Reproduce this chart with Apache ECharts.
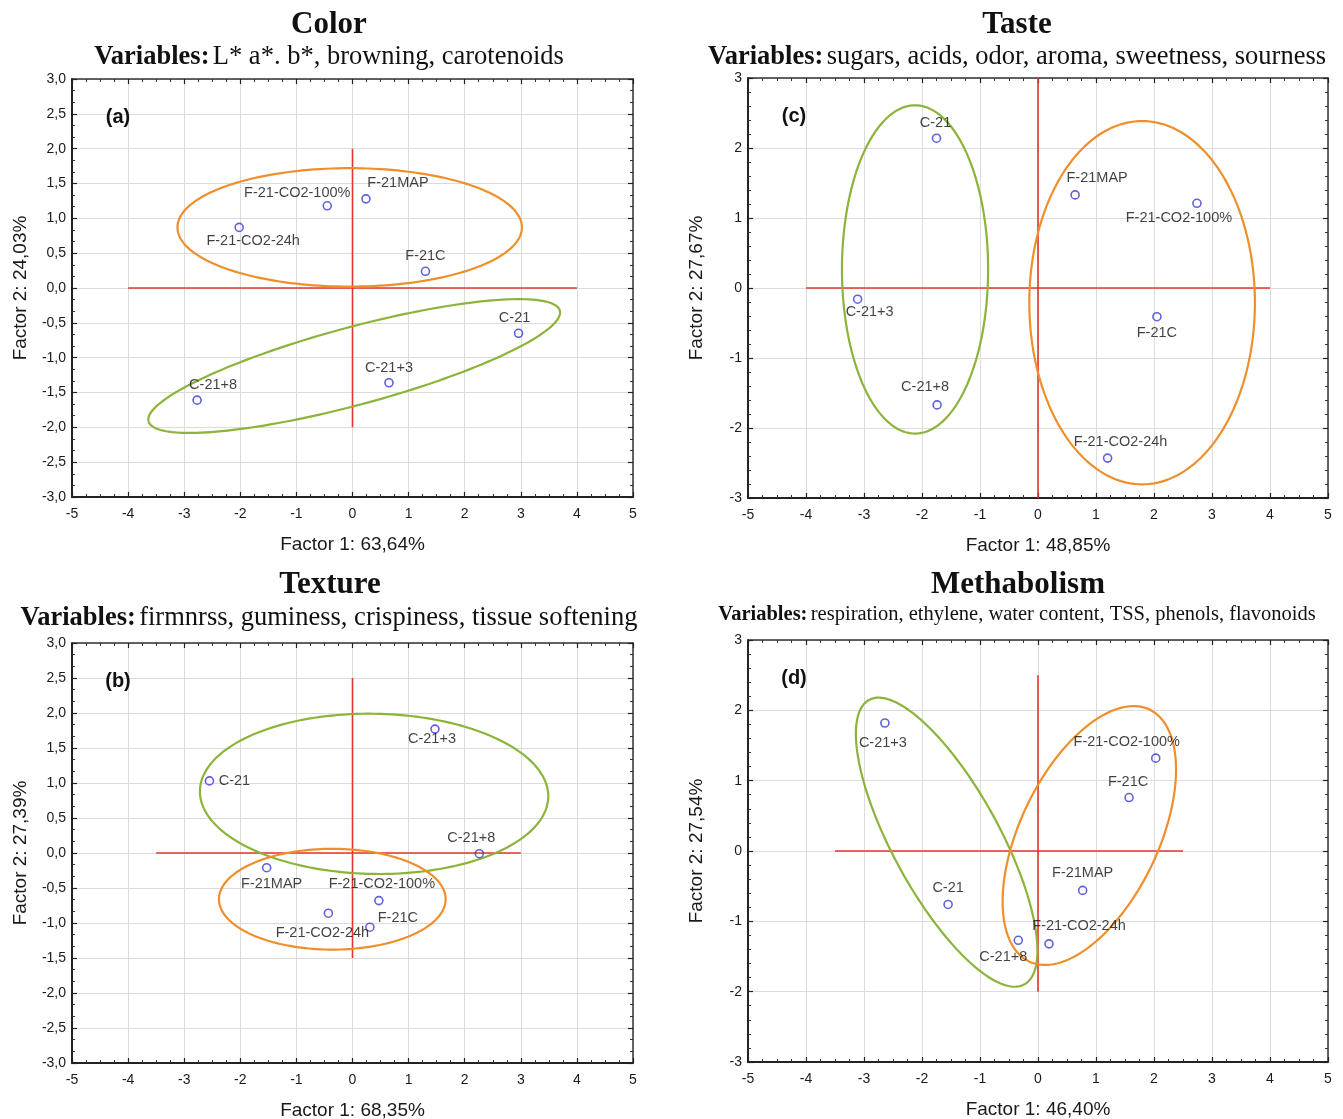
<!DOCTYPE html>
<html><head><meta charset="utf-8">
<script src="https://cdn.jsdelivr.net/npm/echarts@6/dist/echarts.min.js"></script>
<style>html,body{margin:0;padding:0;background:#fff}#c{width:1343px;height:1119px}</style>
</head><body><div id="c"></div>
<script>
// ---------- DATA ----------
const samples = ['C-21', 'C-21+3', 'C-21+8', 'F-21C', 'F-21MAP', 'F-21-CO2-24h', 'F-21-CO2-100%'];

// (a) Color
const colorF1 = [2.96, 0.65, -2.77, 1.30, 0.24, -2.02, -0.45];
const colorF2 = [-0.65, -1.36, -1.61, 0.24, 1.28, 0.87, 1.18];
// (c) Taste
const tasteF1 = [-1.75, -3.11, -1.74, 2.05, 0.64, 1.20, 2.74];
const tasteF2 = [2.14, -0.16, -1.67, -0.41, 1.33, -2.43, 1.21];
// (b) Texture
const textureF1 = [-2.55, 1.47, 2.26, 0.31, -1.53, -0.43, 0.47];
const textureF2 = [1.03, 1.77, -0.01, -1.06, -0.21, -0.86, -0.68];
// (d) Methabolism
const metabF1 = [-1.55, -2.64, -0.34, 1.57, 0.77, 0.19, 2.03];
const metabF2 = [-0.76, 1.82, -1.27, 0.76, -0.56, -1.32, 1.32];

// group ellipses: [centre F1, centre F2, half-width, half-height, correlation]
const colorGreenEllipse = [0.03, -1.12, 3.67, 0.96, 0.80];
const colorOrangeEllipse = [-0.05, 0.87, 3.07, 0.85, 0];
const tasteGreenEllipse = [-2.12, 0.265, 1.26, 2.345, 0];
const tasteOrangeEllipse = [1.795, -0.21, 1.945, 2.595, 0];
const textureGreenEllipse = [0.385, 0.845, 3.105, 1.145, -0.03];
const textureOrangeEllipse = [-0.36, -0.66, 2.02, 0.72, 0];
const metabGreenEllipse = [-1.575, 0.125, 1.565, 2.055, -0.75];
const metabOrangeEllipse = [0.885, 0.22, 1.495, 1.84, 0.51];

// red reference cross: [from, to] along F1 (at F2=0) and along F2 (at F1=0)
const colorCrossF1 = [-4, 4], colorCrossF2 = [-2, 2];
const tasteCrossF1 = [-4, 4], tasteCrossF2 = [-3, 3];
const textureCrossF1 = [-3.5, 3], textureCrossF2 = [-1.5, 2.5];
const metabCrossF1 = [-3.5, 2.5], metabCrossF2 = [-2, 2.5];

// axis ranges / ticks
const xRange = [-5, 5], xStep = 1;
const yRange = [-3, 3];
const yStepDecimal = 0.5, yStepInt = 1;

// ---------- LAYOUT / STYLE ----------
const panels = [
  { key: 'a', f1: colorF1, f2: colorF2, green: colorGreenEllipse, orange: colorOrangeEllipse,
    cx: colorCrossF1, cy: colorCrossF2, xName: 'Factor 1: 63,64%', yName: 'Factor 2: 24,03%',
    grid: { left: 72, top: 79, width: 561, height: 418 }, yStep: yStepDecimal,
    title: 'Color', titleX: 329, sub: 'L* a*. b*, browning, carotenoids', subX: 329, subY: 57, subSize: 26.5, topY: 25,
    offs: [[-4,-15],[0,-15],[16,-15],[0,-15],[32,-16],[14,14],[-30,-13]] },
  { key: 'c', f1: tasteF1, f2: tasteF2, green: tasteGreenEllipse, orange: tasteOrangeEllipse,
    cx: tasteCrossF1, cy: tasteCrossF2, xName: 'Factor 1: 48,85%', yName: 'Factor 2: 27,67%',
    grid: { left: 748, top: 78, width: 580, height: 420 }, yStep: yStepInt,
    title: 'Taste', titleX: 1017, sub: 'sugars, acids, odor, aroma, sweetness, sourness', subX: 1017, subY: 57, subSize: 26.5, topY: 25,
    offs: [[-1,-15],[12,13],[-12,-18],[0,16],[22,-17],[13,-16],[-18,15]] },
  { key: 'b', f1: textureF1, f2: textureF2, green: textureGreenEllipse, orange: textureOrangeEllipse,
    cx: textureCrossF1, cy: textureCrossF2, xName: 'Factor 1: 68,35%', yName: 'Factor 2: 27,39%',
    grid: { left: 72, top: 643, width: 561, height: 420 }, yStep: yStepDecimal,
    title: 'Texture', titleX: 330, sub: 'firmnrss, guminess, crispiness, tissue softening', subX: 329, subY: 618, subSize: 26.5, topY: 585,
    offs: [[25,0],[-3,10],[-8,-16],[28,-9],[5,16],[-6,20],[3,-17]] },
  { key: 'd', f1: metabF1, f2: metabF2, green: metabGreenEllipse, orange: metabOrangeEllipse,
    cx: metabCrossF1, cy: metabCrossF2, xName: 'Factor 1: 46,40%', yName: 'Factor 2: 27,54%',
    grid: { left: 748, top: 640, width: 580, height: 422 }, yStep: yStepInt,
    title: 'Methabolism', titleX: 1018, sub: 'respiration, ethylene, water content, TSS, phenols, flavonoids', subX: 1017, subY: 615, subSize: 20.5, topY: 585,
    offs: [[0,-16],[-2,20],[-15,17],[-1,-16],[0,-17],[30,-18],[-29,-16]] }
];

const GREEN = '#8cb43a', ORANGE = '#ef8f2c', RED = '#e8332b', BLUE = '#3a3ad6';
const SANS = 'Liberation Sans, Arial, sans-serif';
const SERIF = 'Liberation Serif, Times New Roman, serif';

function ellipseRender(color) {
  return function (params, api) {
    const cx = api.value(0), cy = api.value(1), hw = api.value(2), hh = api.value(3), r = api.value(4);
    const s = Math.sqrt(1 - r * r);
    const pts = [];
    for (let i = 0; i <= 180; i++) {
      const t = i / 180 * Math.PI * 2;
      pts.push(api.coord([cx + hw * Math.cos(t), cy + hh * (r * Math.cos(t) + s * Math.sin(t))]));
    }
    return { type: 'polygon', shape: { points: pts }, style: { fill: 'none', stroke: color, lineWidth: 2.2 } };
  };
}

const grids = [], xAxes = [], yAxes = [], series = [], graphics = [];
panels.forEach((p, i) => {
  grids.push(Object.assign({ outerBoundsMode: 'none', containLabel: false }, p.grid));
  const tickCommon = { show: true, inside: true, length: 5, lineStyle: { color: '#222', width: 1.2 } };
  const minorCommon = { show: true, splitNumber: 4, length: 3, lineStyle: { color: '#333', width: 1 } };
  xAxes.push({
    type: 'value', gridIndex: i, min: xRange[0], max: xRange[1], interval: xStep,
    name: p.xName, nameLocation: 'middle', nameGap: 38,
    nameTextStyle: { fontFamily: SANS, fontSize: 19, color: '#1a1a1a' },
    axisLine: { show: true, onZero: false, lineStyle: { color: '#222', width: 2 } },
    axisTick: tickCommon, minorTick: minorCommon,
    axisLabel: { fontFamily: SANS, fontSize: 14, color: '#1a1a1a', margin: 10 },
    splitLine: { show: true, lineStyle: { color: '#dcdcdc', width: 1 } }
  });
  xAxes.push({
    type: 'value', gridIndex: i, min: xRange[0], max: xRange[1], interval: xStep, position: 'top',
    axisLine: { show: true, onZero: false, lineStyle: { color: '#333', width: 1.5 } },
    axisTick: tickCommon, minorTick: minorCommon, axisLabel: { show: false }, splitLine: { show: false }
  });
  const fmt = p.yStep < 1 ? (v => v.toFixed(1).replace('.', ',')) : (v => String(v));
  yAxes.push({
    type: 'value', gridIndex: i, min: yRange[0], max: yRange[1], interval: p.yStep,
    name: p.yName, nameLocation: 'middle', nameGap: 42,
    nameTextStyle: { fontFamily: SANS, fontSize: 19, color: '#1a1a1a' },
    axisLine: { show: true, onZero: false, lineStyle: { color: '#222', width: 2 } },
    axisTick: tickCommon, minorTick: Object.assign({}, minorCommon, { splitNumber: p.yStep < 1 ? 3 : 5 }),
    axisLabel: { fontFamily: SANS, fontSize: 14, color: '#1a1a1a', margin: 6, formatter: fmt },
    splitLine: { show: true, lineStyle: { color: '#dcdcdc', width: 1 } }
  });
  yAxes.push({
    type: 'value', gridIndex: i, min: yRange[0], max: yRange[1], interval: p.yStep, position: 'right',
    axisLine: { show: true, onZero: false, lineStyle: { color: '#333', width: 1.5 } },
    axisTick: tickCommon, minorTick: Object.assign({}, minorCommon, { splitNumber: p.yStep < 1 ? 3 : 5 }),
    axisLabel: { show: false }, splitLine: { show: false }
  });
  const xi = i * 2, yi = i * 2;
  series.push({ type: 'line', xAxisIndex: xi, yAxisIndex: yi, symbol: 'none', silent: true,
    lineStyle: { color: RED, width: 1.6 }, data: [[p.cx[0], 0], [p.cx[1], 0]], z: 2 });
  series.push({ type: 'line', xAxisIndex: xi, yAxisIndex: yi, symbol: 'none', silent: true,
    lineStyle: { color: RED, width: 1.6 }, data: [[0, p.cy[0]], [0, p.cy[1]]], z: 2 });
  series.push({ type: 'custom', xAxisIndex: xi, yAxisIndex: yi, renderItem: ellipseRender(GREEN), data: [p.green], z: 3, silent: true });
  series.push({ type: 'custom', xAxisIndex: xi, yAxisIndex: yi, renderItem: ellipseRender(ORANGE), data: [p.orange], z: 3, silent: true });
  series.push({
    type: 'scatter', xAxisIndex: xi, yAxisIndex: yi, z: 5, symbol: 'circle', symbolSize: 8,
    itemStyle: { color: 'rgba(255,255,255,0)', borderColor: BLUE, borderWidth: 1.6 },
    data: samples.map((s, k) => ({
      value: [p.f1[k], p.f2[k]], name: s,
      label: { show: true, position: 'inside', offset: p.offs[k], formatter: s,
        fontFamily: SANS, fontSize: 14.5, color: '#111' }
    }))
  });
  graphics.push({ type: 'text', z: 100, x: p.titleX, y: p.topY, style: { text: p.title, font: 'bold 31px ' + SERIF, fill: '#111', align: 'center', verticalAlign: 'middle' } });
  graphics.push({ type: 'text', z: 100, x: p.subX, y: p.subY, style: {
    text: '{b|Variables:} {r|' + p.sub + '}', align: 'center', verticalAlign: 'middle',
    rich: { b: { fontFamily: SERIF, fontWeight: 'bold', fontSize: p.subSize, fill: '#111' },
            r: { fontFamily: SERIF, fontSize: p.subSize, fill: '#111' } } } });
  graphics.push({ type: 'text', z: 100, x: p.grid.left + 46, y: p.grid.top + 38, style: { text: '(' + p.key + ')', font: 'bold 20px ' + SANS, fill: '#111', align: 'center', verticalAlign: 'middle' } });
});

const chart = echarts.init(document.getElementById('c'));
chart.setOption({
  animation: false,
  backgroundColor: '#fff',
  grid: grids, xAxis: xAxes, yAxis: yAxes, series: series, graphic: graphics
});
</script></body></html>
